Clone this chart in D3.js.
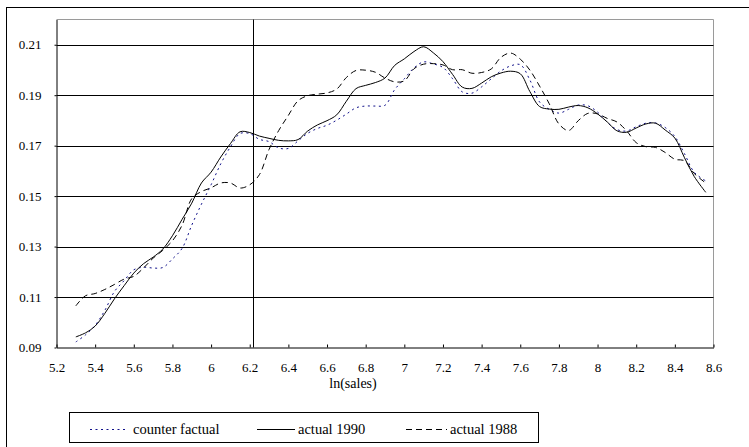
<!DOCTYPE html>
<html>
<head>
<meta charset="utf-8">
<script src="https://cdn.jsdelivr.net/npm/d3@7"></script>
<style>
  body { margin: 0; background: #fff; }
  svg { display: block; }
</style>
</head>
<body>
<div id="chart"></div>
<script>
// ln(sales) grid shared by all three density curves
const lnSales = [5.30, 5.35, 5.40, 5.45, 5.50, 5.55, 5.60, 5.65, 5.70, 5.75,
  5.80, 5.85, 5.90, 5.95, 6.00, 6.05, 6.10, 6.15, 6.20, 6.25,
  6.30, 6.35, 6.40, 6.45, 6.50, 6.55, 6.60, 6.65, 6.70, 6.75,
  6.80, 6.85, 6.90, 6.95, 7.00, 7.05, 7.10, 7.15, 7.20, 7.25,
  7.30, 7.35, 7.40, 7.45, 7.50, 7.55, 7.60, 7.65, 7.70, 7.75,
  7.80, 7.85, 7.90, 7.95, 8.00, 8.05, 8.10, 8.15, 8.20, 8.25,
  8.30, 8.35, 8.40, 8.45, 8.50, 8.56];

const counterFactual = [0.0922, 0.0950, 0.0988, 0.1047, 0.1122, 0.1165, 0.1208, 0.1218, 0.1215, 0.1217,
  0.1251, 0.1293, 0.1385, 0.1468, 0.1545, 0.1628, 0.1695, 0.1748, 0.1748, 0.1725,
  0.1716, 0.1691, 0.1689, 0.1719, 0.1749, 0.1768, 0.1781, 0.1801, 0.1825, 0.1850,
  0.1857, 0.1857, 0.1860, 0.1922, 0.1965, 0.2008, 0.2032, 0.2024, 0.2010, 0.1965,
  0.1913, 0.1908, 0.1933, 0.1965, 0.1996, 0.2016, 0.2021, 0.1960, 0.1873, 0.1844,
  0.1829, 0.1844, 0.1861, 0.1858, 0.1833, 0.1793, 0.1764, 0.1758, 0.1775, 0.1789,
  0.1790, 0.1772, 0.1736, 0.1668, 0.1595, 0.1560];

const actual1990 = [0.0942, 0.0958, 0.0985, 0.1035, 0.1093, 0.1145, 0.1195, 0.1232, 0.1258, 0.1290,
  0.1343, 0.1408, 0.1472, 0.1552, 0.1595, 0.1655, 0.1708, 0.1755, 0.1752, 0.1738,
  0.1729, 0.1721, 0.1719, 0.1724, 0.1758, 0.1782, 0.1799, 0.1822, 0.1876, 0.1926,
  0.1939, 0.1950, 0.1968, 0.2018, 0.2044, 0.2073, 0.2092, 0.2068, 0.2033, 0.1982,
  0.1932, 0.1927, 0.1948, 0.1973, 0.1988, 0.1995, 0.1985, 0.1914, 0.1855, 0.1845,
  0.1844, 0.1853, 0.1859, 0.1850, 0.1826, 0.1794, 0.1759, 0.1753, 0.1770, 0.1786,
  0.1789, 0.1762, 0.1730, 0.1652, 0.1578, 0.1515];

const actual1988 = [0.1065, 0.1105, 0.1114, 0.1130, 0.1150, 0.1171, 0.1182, 0.1215, 0.1254, 0.1285,
  0.1323, 0.1385, 0.1490, 0.1518, 0.1533, 0.1552, 0.1552, 0.1532, 0.1545, 0.1585,
  0.1685, 0.1760, 0.1820, 0.1878, 0.1898, 0.1904, 0.1909, 0.1924, 0.1970, 0.1998,
  0.1999, 0.1991, 0.1968, 0.1953, 0.1957, 0.2005, 0.2023, 0.2025, 0.2020, 0.2001,
  0.2001, 0.1987, 0.1990, 0.2004, 0.2050, 0.2067, 0.2043, 0.1999, 0.1936, 0.1866,
  0.1786, 0.1760, 0.1799, 0.1828, 0.1826, 0.1808, 0.1794, 0.1759, 0.1712, 0.1696,
  0.1693, 0.1673, 0.1646, 0.1640, 0.1590, 0.1552];

const xTicks = d3.range(5.2, 8.61, 0.2).map(v => +v.toFixed(1));
const yTicks = [0.09, 0.11, 0.13, 0.15, 0.17, 0.19, 0.21];
const cutoff = Math.log(500); // vertical reference line

const series = [
  { name: "counter factual", values: counterFactual, color: "#10108a", dash: "2,3.5" },
  { name: "actual 1990", values: actual1990, color: "#000", dash: null },
  { name: "actual 1988", values: actual1988, color: "#000", dash: "6,4" }
];

const FONT = "Liberation Serif";
const width = 749, height = 447;
const plot = { left: 56.5, top: 19.5, right: 713.5, bottom: 347.5 };

const svg = d3.select("#chart").append("svg")
  .attr("width", width)
  .attr("height", height)
  .attr("font-family", FONT);

// outer chart frame (runs off the right and bottom edge)
svg.append("rect")
  .attr("x", 6.5).attr("y", 7.5)
  .attr("width", 760).attr("height", 460)
  .attr("fill", "none").attr("stroke", "#000");

const x = d3.scaleLinear().domain([5.2, 8.6]).range([plot.left, plot.right]);
const y = d3.scaleLinear().domain([0.09, 0.22]).range([plot.bottom, plot.top]);

// plot area border (grey top / right)
svg.append("path")
  .attr("d", `M${plot.left},${plot.top}H${plot.right}V${plot.bottom}`)
  .attr("fill", "none").attr("stroke", "#9a9a9a");

// horizontal gridlines
svg.append("g")
  .selectAll("line")
  .data(yTicks.slice(1))
  .join("line")
  .attr("x1", plot.left).attr("x2", plot.right)
  .attr("y1", d => Math.round(y(d)) + 0.5).attr("y2", d => Math.round(y(d)) + 0.5)
  .attr("stroke", "#000");

// vertical line at ln(500)
svg.append("line")
  .attr("x1", Math.round(x(cutoff)) + 0.5).attr("x2", Math.round(x(cutoff)) + 0.5)
  .attr("y1", plot.top).attr("y2", plot.bottom)
  .attr("stroke", "#000");

// axes
const xAxis = svg.append("g")
  .attr("transform", `translate(0,${plot.bottom})`)
  .call(d3.axisBottom(x).tickValues(xTicks).tickSizeInner(-3).tickSizeOuter(0)
    .tickPadding(15).tickFormat(d3.format("")));

const yAxis = svg.append("g")
  .attr("transform", `translate(${plot.left},0)`)
  .call(d3.axisLeft(y).tickValues(yTicks).tickSizeInner(2).tickSizeOuter(0)
    .tickPadding(13).tickFormat(d3.format(".2f")));

[xAxis, yAxis].forEach(g => {
  g.attr("font-family", FONT).attr("font-size", 13);
  g.select(".domain").attr("stroke", "#000");
  g.selectAll(".tick line").attr("stroke", "#000");
  g.selectAll(".tick text").attr("fill", "#000");
});

svg.append("text")
  .attr("x", 353).attr("y", 388)
  .attr("text-anchor", "middle")
  .attr("font-family", FONT)
  .attr("font-size", 14)
  .text("ln(sales)");

// curves
const line = d3.line()
  .x((d, i) => x(lnSales[i]))
  .y(d => y(d))
  .curve(d3.curveCatmullRom.alpha(0.5));

svg.append("g")
  .selectAll("path")
  .data(series)
  .join("path")
  .attr("d", d => line(d.values))
  .attr("fill", "none")
  .attr("stroke", d => d.color)
  .attr("stroke-width", 1)
  .attr("stroke-dasharray", d => d.dash);

// legend
const legend = svg.append("g");
legend.append("rect")
  .attr("x", 69.5).attr("y", 412.5)
  .attr("width", 469).attr("height", 30)
  .attr("fill", "#fff").attr("stroke", "#000");

const legendPos = [
  { x0: 90, x1: 128, tx: 133 },
  { x0: 257, x1: 295, tx: 298 },
  { x0: 406, x1: 447, tx: 450 }
];

const items = legend.selectAll("g.item")
  .data(series)
  .join("g")
  .attr("class", "item");

items.append("line")
  .attr("x1", (d, i) => legendPos[i].x0).attr("x2", (d, i) => legendPos[i].x1)
  .attr("y1", 429.5).attr("y2", 429.5)
  .attr("stroke", d => d.color)
  .attr("stroke-dasharray", d => d.dash);

items.append("text")
  .attr("x", (d, i) => legendPos[i].tx)
  .attr("y", 434)
  .attr("font-family", FONT)
  .attr("font-size", 14.5)
  .text(d => d.name);
</script>
</body>
</html>
